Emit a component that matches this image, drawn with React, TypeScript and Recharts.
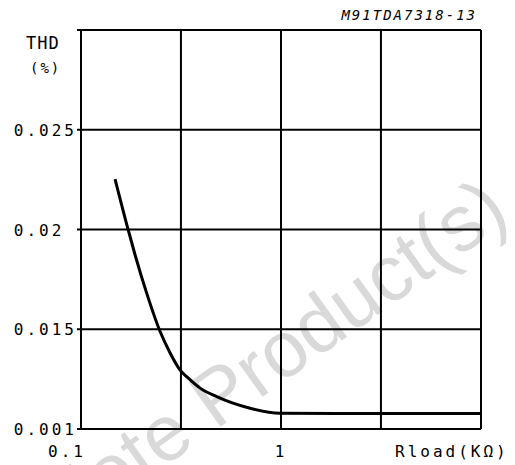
import React from 'react';
import { LineChart, Line, XAxis, YAxis, CartesianGrid } from 'recharts';

// Rload in kOhm, THD in %
const rload = [0.148, 0.172, 0.186, 0.213, 0.248, 0.279, 0.3126, 0.343, 0.394, 0.477, 0.7, 0.989, 2, 5, 10];
const thd = [0.02253, 0.0200, 0.01876, 0.01681, 0.01491, 0.01381, 0.01296, 0.01256, 0.01205, 0.01162, 0.01104, 0.01079, 0.01078, 0.01078, 0.01078];

const xTicks = [0.1, 0.316, 1, 3.16, 10];
const xLabels = ['0.1', '', '1', '', ''];
const yTicks = [0.01, 0.015, 0.02, 0.025, 0.03];
const yLabels = ['0.001', '0.015', '0.02 ', '0.025', ''];

const data = rload.map((r, i) => ({ r, thd: thd[i] }));

const font = '"DejaVu Sans Mono", monospace';

const XTick = (props: any) => {
  const { x, y, index } = props;
  const label = xLabels[index] ?? '';
  const dx = index === 0 ? -14 : 0;
  return (
    <text x={x + dx} y={y + 20} textAnchor="middle" fontFamily={font} fontSize={16} letterSpacing={3} fill="#000">
      {label}
    </text>
  );
};

const YTick = (props: any) => {
  const { x, y, index } = props;
  const label = yLabels[index] ?? '';
  return (
    <text x={x + 2} y={y + 6} textAnchor="end" fontFamily={font} fontSize={16} letterSpacing={3} fill="#000" style={{ whiteSpace: 'pre' }}>
      {label}
    </text>
  );
};

export default function App() {
  return (
    <div style={{ position: 'absolute', left: 0, top: 0, width: 515, height: 465, background: '#fff', overflow: 'hidden' }}>
      <svg width={515} height={465} style={{ position: 'absolute', left: 0, top: 0 }}>
        <text
          x={512}
          y={219}
          transform="rotate(-35.5 512 219)"
          textAnchor="end"
          fontFamily='"Liberation Sans", Arial, sans-serif'
          fontSize={79}
          fill="#d9d9d9"
        >
          Obsolete Product(s)
        </text>
      </svg>
      <div style={{ position: 'absolute', left: 0, top: 0 }}>
        <LineChart width={515} height={465} data={data} margin={{ top: 30, right: 34, left: 0, bottom: 0 }}>
          <CartesianGrid stroke="#000" strokeWidth={2} horizontalValues={yTicks} verticalValues={xTicks} />
          <XAxis
            dataKey="r"
            type="number"
            scale="log"
            domain={[0.1, 10]}
            ticks={xTicks}
            tick={<XTick />}
            tickLine={false}
            axisLine={{ stroke: '#000', strokeWidth: 2 }}
            height={36}
            interval={0}
          />
          <YAxis
            type="number"
            domain={[0.01, 0.03]}
            ticks={yTicks}
            tick={<YTick />}
            tickSize={4}
            tickLine={{ stroke: '#000', strokeWidth: 2 }}
            axisLine={{ stroke: '#000', strokeWidth: 2 }}
            width={81}
            interval={0}
          />
          <Line type="monotone" dataKey="thd" stroke="#000" strokeWidth={3} dot={false} isAnimationActive={false} />
        </LineChart>
      </div>
      <div style={{ position: 'absolute', left: 26, top: 33, fontFamily: font, fontSize: 17, letterSpacing: 1 }}>THD</div>
      <div style={{ position: 'absolute', left: 30, top: 60, fontFamily: font, fontSize: 14, letterSpacing: 2 }}>(%)</div>
      <div style={{ position: 'absolute', left: 395, top: 442, fontFamily: font, fontSize: 16, letterSpacing: 3 }}>Rload(KΩ)</div>
      <div style={{ position: 'absolute', right: 38, top: 7, fontFamily: font, fontSize: 14, fontStyle: 'italic', letterSpacing: 2 }}>
        M91TDA7318-13
      </div>
    </div>
  );
}
